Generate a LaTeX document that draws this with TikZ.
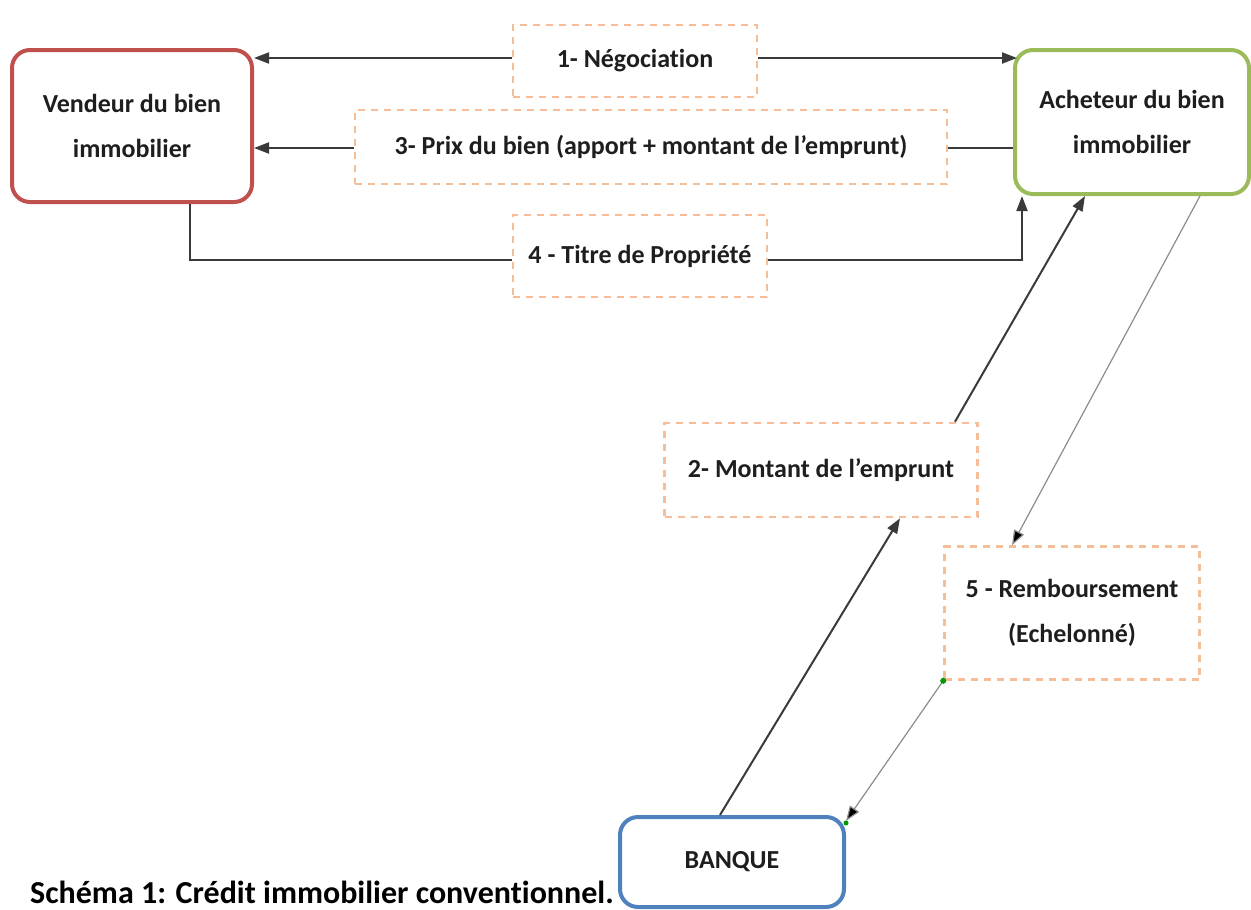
\documentclass[tikz,border=0pt]{standalone}
\usepackage{fontspec}
\setmainfont{Carlito}[Ligatures=NoCommon]
\usetikzlibrary{arrows.meta}
\definecolor{redline}{HTML}{C0504D}
\definecolor{greenline}{HTML}{9BBB59}
\definecolor{blueline}{HTML}{4F81BD}
\definecolor{orangedash}{HTML}{F6BE98}
\definecolor{txt}{HTML}{1E1E1E}
\definecolor{wire}{HTML}{3A3A3A}
\definecolor{thinwire}{HTML}{8C8C8C}
\begin{document}
\begin{tikzpicture}[x=1pt,y=-1pt,
  party/.style={draw, line width=4pt, rounded corners=18pt, fill=white,
    align=center, text=txt, font=\bfseries\fontsize{26}{45}\selectfont,
    inner sep=0pt},
  flowlabel/.style={draw=orangedash, line width=2.6pt, dash pattern=on 7pt off 6pt,
    fill=white, align=center, text=txt, font=\bfseries\fontsize{26}{45}\selectfont,
    inner sep=0pt},
  wirearrow/.style={draw=wire, line width=2pt, -{Triangle[length=15pt,width=11pt]}},
  wireplain/.style={draw=wire, line width=2pt},
  thinarrow/.style={draw=thinwire, line width=1.2pt, -{Triangle[length=15pt,width=11pt,fill=black]}},
  dot/.style={circle, fill=green!60!black, inner sep=0pt, minimum size=6pt}
]
\useasboundingbox (0,0) rectangle (1251,910);

% parties
\node[party, draw=redline, minimum width=240pt, minimum height=152pt] (vend) at (132,126) {Vendeur du bien\\immobilier};
\node[party, draw=greenline, minimum width=234pt, minimum height=144pt] (ach) at (1132,122) {Acheteur du bien\\immobilier};
\node[party, draw=blueline, minimum width=224pt, minimum height=90pt] (banq) at (732,862) {BANQUE};

% flow labels
\node[flowlabel, minimum width=244pt, minimum height=72pt] (lab1) at (635,61) {1- Négociation};
\node[flowlabel, minimum width=592pt, minimum height=74pt] (lab3) at (651,147) {3- Prix du bien (apport + montant\ de l’emprunt)};
\node[flowlabel, minimum width=254pt, minimum height=82pt] (lab4) at (640,256) {4 - Titre de Propriété};
\node[flowlabel, minimum width=313pt, minimum height=94pt] (lab2) at (821,470) {2- Montant de l’emprunt};
\node[flowlabel, minimum width=255pt, minimum height=133pt] (lab5) at (1072,613) {5 - Remboursement\\(Echelonné)};

% 1 - negotiation, both ways
\draw[wirearrow] (lab1.west |- 0,58) -- (vend.east |- 0,58);
\draw[wirearrow] (lab1.east |- 0,58) -- ([xshift=4pt]ach.west |- 0,58);

% 3 - price paid to the seller
\draw[wireplain] (ach.west |- 0,148) -- (lab3.east |- 0,148);
\draw[wirearrow] (lab3.west |- 0,148) -- (vend.east |- 0,148);

% 4 - title deed
\draw[wireplain] (vend.south -| 190,0) |- (lab4.west |- 0,260);
\draw[wirearrow] (lab4.east |- 0,260) -| (ach.south -| 1022,0);

% 2 - loan amount
\draw[wirearrow] (banq.north -| 720,0) -- (lab2.south -| 900,0);
\draw[wirearrow] (lab2.north -| 955,0) -- (ach.south -| 1085,0);

% 5 - repayment
\draw[thinarrow] (ach.south -| 1200,0) -- (lab5.north -| 1012,0);
\coordinate (bq) at ([yshift=-6pt]banq.north east);
\draw[thinarrow] (lab5.south west) -- (bq);
\node[dot] at (lab5.south west) {};
\node[dot, minimum size=5pt] at ([yshift=-8pt]banq.north east) {};

% caption
\node[anchor=base west, inner sep=0pt, text=black, font=\bfseries\fontsize{32}{32}\selectfont] (cap) at (30,903) {Schéma 1: Crédit immobilier conventionnel.};
\end{tikzpicture}
\end{document}
